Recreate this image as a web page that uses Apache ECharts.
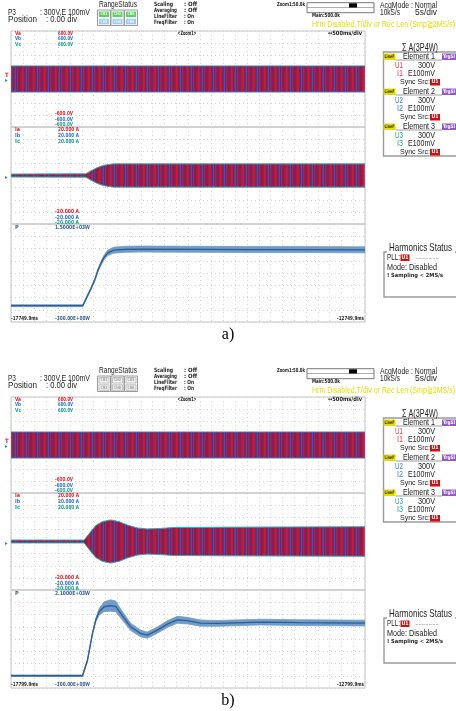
<!DOCTYPE html>
<html><head><meta charset="utf-8">
<script src="https://cdn.jsdelivr.net/npm/echarts@6/dist/echarts.min.js"></script>
<style>html,body{margin:0;padding:0;background:#fff}#c{width:456px;height:711px}</style>
</head><body><div id="c"></div>
<script>
// ---------------- data ----------------
const panelLabels = ['a)', 'b)'];
const timeRangeA = [-17749.9, -12749.9];
const timeRangeB = [-17799.9, -12799.9];
const timeLabelsA = ['-17749.9ms', '-12749.9ms'];
const timeLabelsB = ['-17799.9ms', '-12799.9ms'];
const voltRange = [-600, 600];
const voltLabels = ['600.0V', '-600.0V'];
const currRange = [-20, 20];
const currLabels = ['20.000 A', '-20.000 A'];
const powRangeA = [-300, 1500];
const powRangeB = [-300, 2100];
const powLabelsA = ['1.5000E+03W', '-300.00E+00W'];
const powLabelsB = ['2.1000E+03W', '-300.00E+00W'];

// voltage envelope (peak V)
const voltTimeA = [-17749.9, -12749.9];
const voltAmpA = [162, 162];
const voltTimeB = [-17799.9, -12799.9];
const voltAmpB = [162, 162];

// current envelope (peak A)
const currTimeA = [-17749.9, -16693.5, -16623.0, -16528.7, -16440.0, -16299.0, -12749.9];
const currAmpA  = [0.6, 0.7, 1.9, 3.3, 4.2, 4.8, 4.8];
const currTimeB = [-17799.9, -16767.5, -16673.1, -16602.7, -16508.3, -16391.4, -16274.5, -16155.9, -16015.2, -15874.4, -15687.0, -15503.8, -15222.3, -14842.0, -12799.9];
const currAmpB  = [0.6, 0.6, 4.1, 6.6, 8.2, 8.9, 8.2, 6.8, 5.6, 5.2, 5.4, 5.8, 5.8, 5.9, 6.1];

// active power (W): mean and noise half-width
const powTimeA  = [-17749.9, -16735.8, -16679.4, -16623.1, -16566.8, -16524.5, -16482.2, -16440.0, -16383.7, -16299.2, -16130.1, -15918.9, -15073.8, -14369.5, -13665.2, -12749.9];
const powMeanA  = [0, 0, 155, 307, 473, 639, 768, 879, 971, 1020, 1035, 1040, 1035, 1030, 1030, 1025];
const powNoiseA = [18, 18, 20, 22, 25, 28, 32, 40, 50, 55, 55, 55, 55, 55, 55, 55];
const powTimeB  = [-17799.9, -16790.0, -16719.6, -16649.2, -16602.7, -16556.3, -16485.8, -16391.4, -16321.0, -16250.5, -16110.0, -15968.8, -15874.4, -15733.6, -15592.7, -15451.9, -15311.0, -15123.6, -14888.5, -14278.6, -13715.2, -12799.9];
const powMeanB  = [0, 0, 380, 1036, 1363, 1560, 1690, 1720, 1700, 1527, 1198, 1036, 994, 1117, 1264, 1370, 1350, 1290, 1282, 1314, 1300, 1290];
const powNoiseB = [20, 20, 25, 30, 45, 80, 120, 140, 130, 110, 90, 80, 75, 75, 80, 85, 80, 75, 70, 70, 70, 70];

// ---------------- rendering ----------------
const FN = "'Liberation Sans','Arimo',sans-serif";
const FC = "'DejaVu Sans Condensed','DejaVu Sans',sans-serif";
const RED = '#e0202a', BLUE = '#2d6fd8', TEAL = '#1a9e8a', PBLUE = '#3a6090';

function makePattern() {
  const c = document.createElement('canvas'); c.width = 11; c.height = 8;
  const g = c.getContext('2d');
  const cols = ['#d01a2a', '#b81c38', '#7e2260', '#4a3a98', '#2f5cc0', '#7a2262', '#c81a30', '#a01c44', '#6c2670', '#8a1e52', '#b01a3a'];
  cols.forEach((col, i) => { g.fillStyle = col; g.fillRect(i, 0, 1, 8); });
  return c;
}
const pat = makePattern();
const mctx = document.createElement('canvas').getContext('2d');
function measure(s, size, fam, bold) { mctx.font = (bold ? 'bold ' : '') + size + 'px ' + fam; return mctx.measureText(s).width; }

function tx(x, y, s, fill, size, o) {
  o = o || {};
  const fam = o.family || FN;
  const el = { type: 'text', x: x, y: y, z: 100, silent: true,
    style: { text: s, fill: fill, fontSize: size, fontFamily: fam, fontWeight: o.bold ? 'bold' : 'normal',
      textAlign: o.align || 'left', textVerticalAlign: 'middle', align: o.align || 'left', verticalAlign: 'middle' } };
  if (o.w) { const m = measure(s, size, fam, o.bold); if (m > 0) { el.scaleX = o.w / m; el.originX = 0; el.originY = 0; } }
  return el;
}
function rc(x, y, w, h, fill, stroke, lw) {
  return { type: 'rect', z: 99, silent: true, shape: { x: x, y: y, width: w, height: h },
    style: { fill: fill || 'none', stroke: stroke || null, lineWidth: lw || 1 } };
}
function ln(x1, y1, x2, y2, stroke, lw) {
  return { type: 'line', z: 99, silent: true, shape: { x1: x1, y1: y1, x2: x2, y2: y2 }, style: { stroke: stroke, lineWidth: lw || 1 } };
}

// envelope polygon drawn through the axes' scales
function envelopeSeries(gi, times, centre, half, fill, stroke) {
  return { type: 'custom', xAxisIndex: gi * 2, yAxisIndex: gi * 2, silent: true, animation: false, z: 3, clip: true,
    data: times.map((t, i) => [t, centre[i]]),
    renderItem: function (params, api) {
      if (params.dataIndex !== 0) return null;
      const up = times.map((t, i) => api.coord([t, centre[i] + half[i]]));
      const lo = times.map((t, i) => api.coord([t, centre[i] - half[i]])).reverse();
      return { type: 'polygon', shape: { points: up.concat(lo) }, style: { fill: fill, stroke: stroke, lineWidth: 1 } };
    } };
}

const panels = [
  { oy: 0, tr: timeRangeA, tl: timeLabelsA, pr: powRangeA, pl: powLabelsA, vt: voltTimeA, va: voltAmpA, ct: currTimeA, ca: currAmpA, pt: powTimeA, pm: powMeanA, pn: powNoiseA, on: true, tag: panelLabels[0] },
  { oy: 366, tr: timeRangeB, tl: timeLabelsB, pr: powRangeB, pl: powLabelsB, vt: voltTimeB, va: voltAmpB, ct: currTimeB, ca: currAmpB, pt: powTimeB, pm: powMeanB, pn: powNoiseB, on: false, tag: panelLabels[1] }
];

const grids = [], xAxes = [], yAxes = [], series = [], gfx = [];
const splitStyle = { show: true, lineStyle: { color: '#d2d2d2', type: [1, 3], width: 1 } };

panels.forEach((p, pi) => {
  const rows = [[31, 96], [127, 97], [224, 98]];
  const yr = [voltRange, currRange, p.pr];
  rows.forEach((r, ri) => {
    const gi = pi * 3 + ri;
    grids.push({ left: 11, width: 354, top: r[0] + p.oy, height: r[1], show: true, borderColor: '#c2c2c2', borderWidth: 1, containLabel: false, outerBoundsMode: 'none' });
    xAxes.push({ type: 'value', gridIndex: gi, min: p.tr[0], max: p.tr[1], show: false });
    xAxes.push({ type: 'value', gridIndex: gi, min: 0, max: 30, interval: 1, position: 'top', axisLine: { show: false }, axisTick: { show: false }, axisLabel: { show: false }, splitLine: splitStyle });
    yAxes.push({ type: 'value', gridIndex: gi, min: yr[ri][0], max: yr[ri][1], show: false });
    yAxes.push({ type: 'value', gridIndex: gi, min: 0, max: 8, interval: 1, position: 'right', axisLine: { show: false }, axisTick: { show: false }, axisLabel: { show: false }, splitLine: splitStyle });
  });

  const patFill = { image: pat, repeat: 'repeat' };
  series.push(envelopeSeries(pi * 3, p.vt, p.vt.map(() => 0), p.va, patFill, '#3b72c4'));
  series.push(envelopeSeries(pi * 3 + 1, p.ct, p.ct.map(() => 0), p.ca, patFill, '#3aa6b4'));
  const gp = pi * 3 + 2;
  series.push(envelopeSeries(gp, p.pt, p.pm, p.pn, 'rgba(98,145,196,0.9)', 'rgba(110,155,200,0.8)'));
  series.push({ type: 'line', xAxisIndex: gp * 2, yAxisIndex: gp * 2, data: p.pt.map((t, i) => [t, p.pm[i]]), symbol: 'none', silent: true, animation: false, z: 4, lineStyle: { color: '#2c5e92', width: 1.3 } });

  const oy = p.oy;
  const B = { bold: true, family: FC };
  const SM = 5.6;
  // ---- header ----
  gfx.push(tx(8, 12 + oy, 'P3', '#222', 9.5, { w: 8 }));
  gfx.push(tx(40, 12 + oy, ': 300V,E 100mV', '#222', 9.5, { w: 50 }));
  gfx.push(tx(8, 19.5 + oy, 'Position', '#222', 9.5, { w: 29 }));
  gfx.push(tx(46, 19.5 + oy, ': 0.00 div', '#222', 9.5, { w: 31 }));
  gfx.push(tx(99, 5 + oy, 'RangeStatus', '#222', 9, { w: 38 }));
  const bx = [99, 112.5, 126];
  const chTop = ['CH1', 'CH3', 'CH5'], chBot = ['CH2', 'CH4', 'CH6'];
  bx.forEach((x, i) => {
    gfx.push(rc(x - 1.5, 10 + oy, 13, 15.5, 'none', '#9a9a9a', 1));
    gfx.push(rc(x, 11.5 + oy, 10, 5.5, p.on ? '#5fd35f' : '#f4f4f4', p.on ? null : '#b0b0b0', 0.8));
    gfx.push(rc(x, 18.8 + oy, 10, 5.5, p.on ? '#9cc9ee' : '#f4f4f4', p.on ? null : '#b0b0b0', 0.8));
    gfx.push(tx(x + 1.5, 14.3 + oy, chTop[i], p.on ? '#eaffea' : '#999', 4.5, { bold: true, family: FC, w: 7 }));
    gfx.push(tx(x + 1.5, 21.6 + oy, chBot[i], p.on ? '#eef6ff' : '#999', 4.5, { bold: true, family: FC, w: 7 }));
  });
  const st = [['Scaling', 'Off'], ['Averaging', 'Off'], ['LineFilter', 'On'], ['FreqFilter', 'On']];
  const stw = [19, 23, 23, 23];
  st.forEach((s, i) => {
    const y = [4, 10, 16, 22.5][i] + oy;
    gfx.push(tx(154, y, s[0], '#222', 5.8, { bold: true, family: FC, w: stw[i] }));
    gfx.push(tx(184, y, ': ' + s[1], '#222', 5.8, { bold: true, family: FC, w: s[1] === 'Off' ? 13 : 10 }));
  });
  gfx.push(tx(277, 5 + oy, 'Zoom1:50.0k', '#222', 5.6, { bold: true, family: FC, w: 28 }));
  gfx.push(rc(307, 2.7 + oy, 67, 10, '#fff', '#555', 0.8));
  gfx.push(ln(307, 7.5 + oy, 374, 7.5 + oy, '#777', 0.6));
  gfx.push(rc(349, 3.3 + oy, 8, 4.2, '#000'));
  gfx.push(tx(312, 16 + oy, 'Main:500.0k', '#222', 5.6, { bold: true, family: FC, w: 28 }));
  gfx.push(tx(380, 5 + oy, 'AcqMode : Normal', '#222', 9.5, { w: 57 }));
  gfx.push(tx(380, 12.5 + oy, '10kS/s', '#222', 9.5, { w: 20 }));
  gfx.push(tx(415, 12.5 + oy, '5s/div', '#222', 9.5, { w: 22 }));
  gfx.push(tx(312, 24 + oy, 'Hrm Disabled,T/div or Rec Len (Smp\u22672MS/s)', '#eadc00', 9.5, { w: 143 }));

  // ---- plot labels ----
  const vc = [RED, BLUE, TEAL];
  ['Va', 'Vb', 'Vc'].forEach((s, i) => {
    gfx.push(tx(15, 33.5 + 5.5 * i + oy, s, vc[i], SM, { bold: true, family: FC, w: 6 }));
    gfx.push(tx(58, 33.5 + 5.5 * i + oy, voltLabels[0], vc[i], SM, { bold: true, family: FC, w: 15 }));
    gfx.push(tx(73, 114 + 5.5 * i + oy, voltLabels[1], vc[i], SM, { bold: true, family: FC, align: 'right', w: 18 }));
  });
  gfx.push(tx(187, 33.5 + oy, '<Zoom1>', '#222', 5.8, { bold: true, family: FC, align: 'center', w: 19 }));
  gfx.push(tx(362, 33.5 + oy, '\u2194500ms/div', '#222', 5.8, { bold: true, family: FC, align: 'right', w: 34 }));
  ['Ia', 'Ib', 'Ic'].forEach((s, i) => {
    gfx.push(tx(15, 130 + 5.6 * i + oy, s, vc[i], SM, { bold: true, family: FC, w: 5 }));
    gfx.push(tx(58, 130 + 5.6 * i + oy, currLabels[0], vc[i], SM, { bold: true, family: FC, w: 21 }));
    gfx.push(tx(79, 212 + 5.3 * i + oy, currLabels[1], vc[i], SM, { bold: true, family: FC, align: 'right', w: 24 }));
  });
  gfx.push(tx(15, 227.5 + oy, 'P', PBLUE, SM, B));
  gfx.push(tx(55, 227.5 + oy, p.pl[0], PBLUE, SM, { bold: true, family: FC, w: 35 }));
  gfx.push(tx(11, 319 + oy, p.tl[0], '#222', SM, { bold: true, family: FC, w: 27 }));
  gfx.push(tx(55, 319 + oy, p.pl[1], PBLUE, SM, { bold: true, family: FC, w: 35 }));
  gfx.push(tx(364, 319 + oy, p.tl[1], '#222', SM, { bold: true, family: FC, align: 'right', w: 27 }));
  gfx.push(tx(5, 75.5 + oy, 'T', RED, 6, B));
  gfx.push(tx(5, 80 + oy, '\u25b8', TEAL, 6, { family: FC }));
  gfx.push(tx(5, 177 + oy, '\u25b8', TEAL, 6, { family: FC }));

  // ---- element panel ----
  gfx.push(tx(402, 48 + oy, '\u03a3 A(3P4W)', '#222', 10, { w: 36 }));
  gfx.push(rc(383.5, 52 + oy, 80, 104, 'none', '#9a9a9a', 1.4));
  const ec = ['#e53a48', '#3d7ee0', '#22a394'];
  for (let e = 0; e < 3; e++) {
    const b = 57 + 35 * e + oy;
    gfx.push(rc(383.5, b - 3.5, 12, 6.5, '#e6dc00'));
    gfx.push(tx(384.5, b - 0.2, 'LineF', '#333', 4.8, { bold: true, family: FC, w: 10 }));
    gfx.push(ln(395.5, b + 3, 442, b + 3, '#777', 0.7));
    gfx.push(tx(403, b, 'Element ' + (e + 1), '#222', 9, { w: 32 }));
    gfx.push(rc(442, b - 3.5, 14, 6.5, '#9358d0'));
    gfx.push(tx(443, b - 0.2, 'TrgSl', '#fff', 4.8, { bold: true, family: FC, w: 12 }));
    gfx.push(tx(395, b + 8.5, 'U' + (e + 1), ec[e], 9.5, { w: 8 }));
    gfx.push(tx(418, b + 8.5, '300V', '#222', 9.5, { w: 17 }));
    gfx.push(tx(397, b + 16.5, 'I' + (e + 1), ec[e], 9.5, { w: 6 }));
    gfx.push(tx(408, b + 16.5, 'E100mV', '#222', 9.5, { w: 27 }));
    gfx.push(tx(400, b + 25, 'Sync Src:', '#222', 8, { w: 30 }));
    gfx.push(rc(430, b + 22, 10, 6.5, '#d01010'));
    gfx.push(tx(431.5, b + 25.2, 'U1', '#fff', 5, { bold: true, family: FC, w: 7 }));
  }
  // ---- harmonics status ----
  gfx.push(rc(384, 252 + oy, 80, 45, 'none', '#9a9a9a', 1.4));
  gfx.push(rc(387, 243 + oy, 68, 10, '#fff'));
  gfx.push(tx(389, 248 + oy, 'Harmonics Status', '#222', 10.5, { w: 63 }));
  gfx.push(tx(387, 257.5 + oy, 'PLL:', '#222', 8.5, { w: 13 }));
  gfx.push(rc(400.5, 254.5 + oy, 9, 6.5, '#d01010'));
  gfx.push(tx(401.5, 257.8 + oy, 'U1', '#fff', 5, { bold: true, family: FC, w: 7 }));
  gfx.push(tx(415, 257.5 + oy, '-------', '#999', 8, { w: 24 }));
  gfx.push(tx(387, 268 + oy, 'Mode: Disabled', '#222', 8.5, { w: 50 }));
  gfx.push(tx(387, 276 + oy, '! Sampling < 2MS/s', '#222', 5.6, { bold: true, family: FC, w: 56 }));

  // ---- panel tag ----
  gfx.push(tx(228, 334.5 + oy, p.tag, '#000', 16, { family: "'Liberation Serif','DejaVu Serif',serif", align: 'center' }));
});

const chart = echarts.init(document.getElementById('c'), null, { renderer: 'canvas' });
chart.setOption({
  animation: false,
  backgroundColor: '#fff',
  grid: grids, xAxis: xAxes, yAxis: yAxes, series: series,
  graphic: { elements: gfx }
});
</script></body></html>
